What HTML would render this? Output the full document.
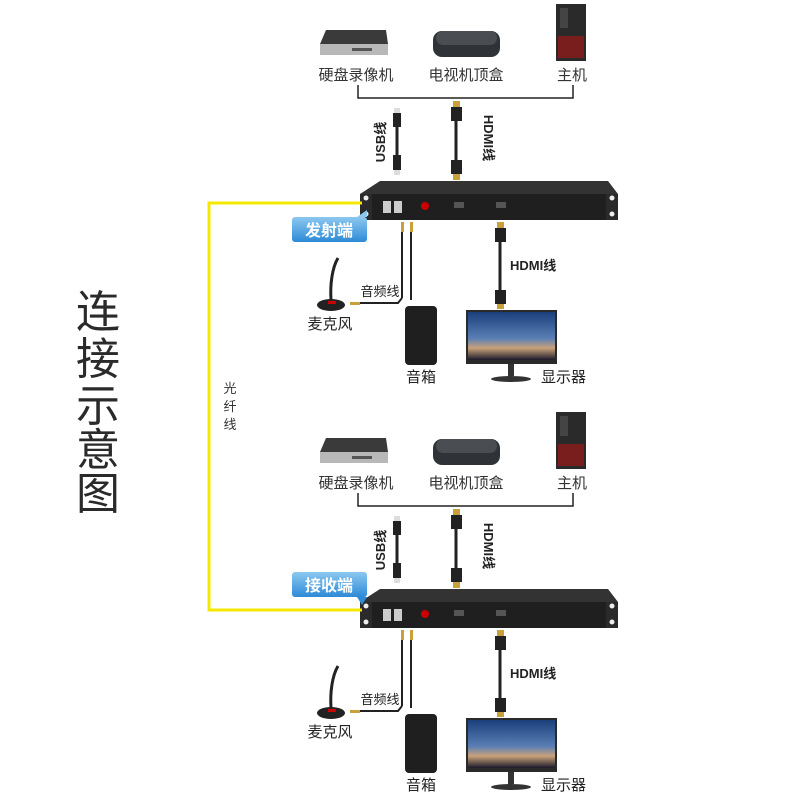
<!DOCTYPE html>
<html><head><meta charset="utf-8"><style>
html,body{margin:0;padding:0;background:#fff;}
svg{display:block;}
text{font-family:"Liberation Sans","Noto Sans CJK SC",sans-serif;}
</style></head><body>
<svg width="800" height="800" viewBox="0 0 800 800" xmlns="http://www.w3.org/2000/svg">
<defs>
<linearGradient id="bl" x1="0" y1="0" x2="0" y2="1"><stop offset="0" stop-color="#8cc8f0"/><stop offset="1" stop-color="#2d8ad6"/></linearGradient>
<linearGradient id="scr" x1="0" y1="0" x2="0" y2="1"><stop offset="0" stop-color="#1b3f7a"/><stop offset="0.55" stop-color="#5a7fb5"/><stop offset="0.75" stop-color="#c9a27a"/><stop offset="1" stop-color="#1a1a2a"/></linearGradient>
<g id="blk">
  <polygon points="326,30 386,30 388,44 320,44" fill="#3a3a3a"/>
  <rect x="320" y="44" width="68" height="11" fill="#b8b8b8"/>
  <rect x="352" y="48" width="20" height="3" fill="#555"/>
  <rect x="433" y="31" width="67" height="26" rx="9" fill="#2f3236"/>
  <rect x="436" y="31" width="61" height="14" rx="7" fill="#4a4e53"/>
  <rect x="556" y="4" width="30" height="57" fill="#2a2a2a"/>
  <rect x="558" y="36" width="26" height="22" fill="#7a1d1d"/>
  <rect x="560" y="8" width="8" height="20" fill="#444"/>
  <text x="356" y="80" font-size="15" text-anchor="middle" fill="#333">硬盘录像机</text>
  <text x="466" y="80" font-size="15" text-anchor="middle" fill="#333">电视机顶盒</text>
  <text x="572" y="80" font-size="15" text-anchor="middle" fill="#333">主机</text>
  <polyline points="358,85 358,98 573,98 573,85" fill="none" stroke="#222" stroke-width="1.5"/>
  <rect x="394" y="108" width="6" height="5" fill="#ddd"/>
  <rect x="393" y="113" width="8" height="14" fill="#222"/>
  <line x1="397" y1="127" x2="397" y2="155" stroke="#222" stroke-width="3"/>
  <rect x="393" y="155" width="8" height="15" fill="#222"/>
  <rect x="394" y="170" width="6" height="5" fill="#ddd"/>
  <text transform="translate(385,142) rotate(-90)" font-size="13" font-weight="bold" text-anchor="middle" fill="#222">USB线</text>
  <rect x="453" y="101" width="7" height="6" fill="#c9a03a"/>
  <rect x="451" y="107" width="11" height="14" fill="#222"/>
  <line x1="456" y1="121" x2="456" y2="160" stroke="#222" stroke-width="3"/>
  <rect x="451" y="160" width="11" height="14" fill="#222"/>
  <rect x="453" y="174" width="7" height="6" fill="#c9a03a"/>
  <text transform="translate(484,138) rotate(90)" font-size="13" font-weight="bold" text-anchor="middle" fill="#222">HDMI线</text>
  <polygon points="380,181 608,181 618,194 360,194" fill="#333"/>
  <rect x="360" y="194" width="258" height="26" fill="#1f1f1f"/>
  <rect x="360" y="194" width="12" height="26" fill="#2a2a2a"/>
  <rect x="606" y="194" width="12" height="26" fill="#2a2a2a"/>
  <circle cx="366" cy="198" r="2.5" fill="#eee"/><circle cx="612" cy="198" r="2.5" fill="#eee"/>
  <circle cx="366" cy="214" r="2.5" fill="#eee"/><circle cx="612" cy="214" r="2.5" fill="#eee"/>
  <rect x="383" y="201" width="8" height="12" fill="#ccc"/><rect x="394" y="201" width="8" height="12" fill="#ccc"/>
  <circle cx="425" cy="206" r="4" fill="#c00"/>
  <rect x="454" y="202" width="10" height="6" fill="#555"/>
  <rect x="496" y="202" width="10" height="6" fill="#555"/>
  <line x1="402" y1="222" x2="402" y2="298" stroke="#222" stroke-width="2"/>
  <line x1="411" y1="222" x2="411" y2="300" stroke="#222" stroke-width="2"/>
  <rect x="401" y="222" width="3" height="10" fill="#c9a03a"/><rect x="410" y="222" width="3" height="10" fill="#c9a03a"/>
  <polyline points="402,298 398,303 350,303" fill="none" stroke="#222" stroke-width="2"/>
  <rect x="350" y="302" width="10" height="3" fill="#c9a03a"/>
  <text x="380" y="296" font-size="13" text-anchor="middle" fill="#222">音频线</text>
  <path d="M338,258 C332,268 330,285 331,300" fill="none" stroke="#222" stroke-width="3"/>
  <ellipse cx="331" cy="305" rx="14" ry="6" fill="#222"/>
  <rect x="328" y="301" width="8" height="3" fill="#c00"/>
  <text x="330" y="329" font-size="15" text-anchor="middle" fill="#222">麦克风</text>
  <rect x="405" y="306" width="32" height="59" rx="4" fill="#1f1f1f"/>
  <text x="421" y="382" font-size="15" text-anchor="middle" fill="#222">音箱</text>
  <rect x="497" y="222" width="7" height="6" fill="#c9a03a"/>
  <rect x="495" y="228" width="11" height="14" fill="#222"/>
  <line x1="500" y1="242" x2="500" y2="290" stroke="#222" stroke-width="3"/>
  <rect x="495" y="290" width="11" height="14" fill="#222"/>
  <rect x="497" y="304" width="7" height="5" fill="#c9a03a"/>
  <text x="510" y="270" font-size="13" font-weight="bold" fill="#222">HDMI线</text>
  <rect x="466" y="310" width="91" height="54" fill="#2a2a2a"/>
  <rect x="468" y="312" width="87" height="48" fill="url(#scr)"/>
  <rect x="508" y="364" width="6" height="12" fill="#333"/>
  <ellipse cx="511" cy="379" rx="20" ry="3" fill="#333"/>
  <text x="541" y="382" font-size="15" fill="#222">显示器</text>
</g>
</defs>
<use href="#blk"/>
<use href="#blk" y="408"/>
<polyline points="362,203 209,203 209,610 362,610" fill="none" stroke="#f5e800" stroke-width="3"/>
<text x="230" y="393" font-size="13" text-anchor="middle" fill="#333">光</text>
<text x="230" y="411" font-size="13" text-anchor="middle" fill="#333">纤</text>
<text x="230" y="429" font-size="13" text-anchor="middle" fill="#333">线</text>
<rect x="292" y="217" width="75" height="25" rx="3" fill="url(#bl)"/>
<polygon points="357,217 367,210 367,217" fill="#8cc8f0"/>
<text x="329" y="236" font-size="16" font-weight="bold" text-anchor="middle" fill="#fff">发射端</text>
<rect x="292" y="572" width="75" height="25" rx="3" fill="url(#bl)"/>
<polygon points="357,597 367,597 362,605" fill="#2d8ad6"/>
<text x="329" y="591" font-size="16" font-weight="bold" text-anchor="middle" fill="#fff">接收端</text>
<g font-size="44" fill="#2a2a2a">
<text x="98" y="327" text-anchor="middle">连</text>
<text x="98" y="374" text-anchor="middle">接</text>
<text x="98" y="421" text-anchor="middle">示</text>
<text x="98" y="465" text-anchor="middle">意</text>
<text x="98" y="509" text-anchor="middle">图</text>
</g>
</svg>
</body></html>
